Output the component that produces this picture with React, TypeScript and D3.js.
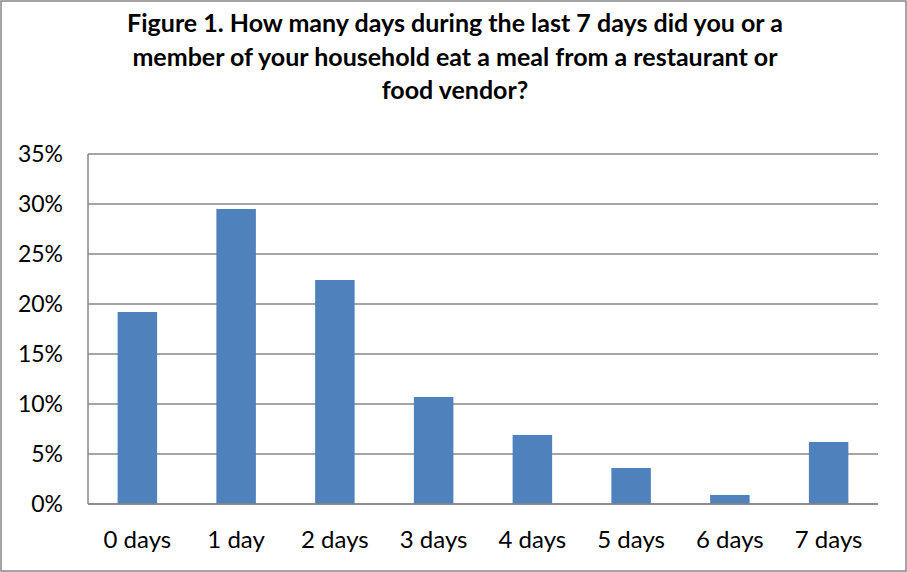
import React from "react";
import * as d3 from "d3";

const categories = ["0 days", "1 day", "2 days", "3 days", "4 days", "5 days", "6 days", "7 days"];
const values = [19.2, 29.5, 22.4, 10.7, 6.9, 3.6, 0.9, 6.2];
const yTicks = [0, 5, 10, 15, 20, 25, 30, 35];
const titleLines = [
  "Figure 1. How many days during the last 7 days did you or a",
  "member of your household eat a meal from a restaurant or",
  "food vendor?",
];

const W = 907;
const H = 572;
const plot = { left: 88, right: 878, top: 154, bottom: 504 };
const FONT = "Lato, 'Open Sans', 'Liberation Sans', sans-serif";

export default function App() {
  const x = d3
    .scaleBand<string>()
    .domain(categories)
    .range([plot.left, plot.right]);
  const band = x.step();
  const y = d3.scaleLinear().domain([0, 35]).range([plot.bottom, plot.top]);
  const barW = band / 2.5;
  const center = (c: string) => (x(c) as number) + band / 2;

  return (
    <svg
      width={W}
      height={H}
      style={{ position: "absolute", left: 0, top: 0, background: "#fff" }}
    >
      <rect x={1} y={1} width={W - 2} height={H - 2} fill="#fff" stroke="#868686" strokeWidth={1.5} />
      {titleLines.map((t, i) => (
        <text
          key={i}
          x={455}
          y={32 + i * 33.5}
          textAnchor="middle"
          fontFamily={FONT}
          fontWeight="bold"
          fontSize={25}
          fill="#000"
        >
          {t}
        </text>
      ))}
      {yTicks.map((t) => (
        <g key={t}>
          <line
            x1={plot.left}
            x2={plot.right}
            y1={y(t)}
            y2={y(t)}
            stroke="#868686"
            strokeWidth={1.5}
          />
          <text
            x={63}
            y={y(t) + 8}
            textAnchor="end"
            fontFamily={FONT}
            fontSize={23}
            fill="#000"
          >
            {t}%
          </text>
        </g>
      ))}
      <line x1={plot.left} x2={plot.left} y1={plot.top} y2={plot.bottom} stroke="#868686" strokeWidth={1.5} />
      {categories.map((c, i) => (
        <g key={c}>
          <rect
            x={center(c) - barW / 2}
            y={y(values[i])}
            width={barW}
            height={y(0) - y(values[i])}
            fill="#4F81BD"
          />
          <text
            x={center(c)}
            y={548}
            textAnchor="middle"
            fontFamily={FONT}
            fontSize={24}
            fill="#000"
          >
            {c}
          </text>
        </g>
      ))}
      <line x1={plot.left} x2={plot.right} y1={y(0)} y2={y(0)} stroke="#868686" strokeWidth={1.5} />
    </svg>
  );
}
